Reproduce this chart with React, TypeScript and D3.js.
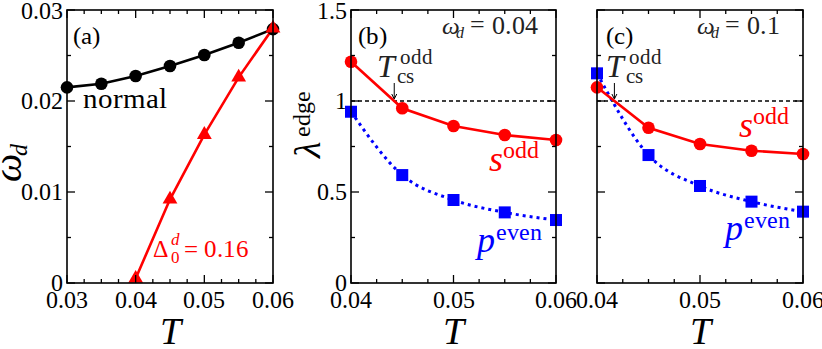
import React from "react";
import * as d3 from "d3";

const W = 822;
const H = 349;

// Panel (a)
const tNormal = [0.03, 0.035, 0.04, 0.045, 0.05, 0.055, 0.06];
const wdNormal = [0.0215, 0.0219, 0.02275, 0.02385, 0.02505, 0.0264, 0.0279];
const tDelta = [0.04, 0.045, 0.05, 0.055, 0.06];
const wdDelta = [0.0005, 0.0092, 0.0163, 0.0226, 0.028];

// Panels (b), (c)
const tLam = [0.04, 0.045, 0.05, 0.055, 0.06];
const sOddB = [1.216, 0.96, 0.863, 0.813, 0.786];
const pEvenB = [0.941, 0.593, 0.456, 0.388, 0.346];
const sOddC = [1.075, 0.853, 0.764, 0.727, 0.709];
const pEvenC = [1.152, 0.703, 0.533, 0.447, 0.392];

const xTicksA = [0.03, 0.04, 0.05, 0.06];
const xTickLabelsA = ["0.03", "0.04", "0.05", "0.06"];
const yTicksA = [0, 0.01, 0.02, 0.03];
const yTickLabelsA = ["0", "0.01", "0.02", "0.03"];
const xTicksBC = [0.04, 0.05, 0.06];
const xTickLabelsBC = ["0.04", "0.05", "0.06"];
const yTicksBC = [0, 0.5, 1, 1.5];
const yTickLabelsBC = ["0", "0.5", "1", "1.5"];

const RED = "#ff0000";
const BLUE = "#0000ff";
const FONT_CSS = '"ChartSerif", "Liberation Serif", "Times New Roman", "DejaVu Serif"';

const FONT_FACES = `
@font-face { font-family: "ChartSerif"; font-style: normal; font-weight: 400;
  src: local("Liberation Serif"), local("LiberationSerif"), local("LiberationSerif-Regular"), local("Times New Roman"), local("DejaVu Serif"); }
@font-face { font-family: "ChartSerif"; font-style: italic; font-weight: 400;
  src: local("Liberation Serif Italic"), local("LiberationSerif-Italic"), local("Times New Roman Italic"), local("DejaVu Serif Italic"), local("DejaVuSerif-Italic"); }
`;

const TOP = 10;
const BOTTOM = 283;

function Tx(props: { x: number; y: number; size: number; it?: boolean; anchor?: string; fill?: string; children: React.ReactNode }) {
  return (
    <text
      x={props.x}
      y={props.y}
      textAnchor={props.anchor}
      fill={props.fill}
      style={{ fontFamily: FONT_CSS, fontSize: props.size + "px", fontStyle: props.it ? "italic" : "normal" }}
    >
      {props.children}
    </text>
  );
}

type PanelProps = {
  x0: number;
  x1: number;
  xDomain: [number, number];
  yDomain: [number, number];
  xMajor: number[];
  xMinorStep: number;
  yMajor: number[];
  yMinorStep: number;
  xLabels: string[];
  yLabels: string[] | null;
  children?: (x: d3.ScaleLinear<number, number>, y: d3.ScaleLinear<number, number>) => React.ReactNode;
};

function Panel(p: PanelProps) {
  const x = d3.scaleLinear().domain(p.xDomain).range([p.x0, p.x1]);
  const y = d3.scaleLinear().domain(p.yDomain).range([BOTTOM, TOP]);
  const xMinor = d3.range(p.xDomain[0], p.xDomain[1] + 1e-9, p.xMinorStep);
  const yMinor = d3.range(p.yDomain[0], p.yDomain[1] + 1e-9, p.yMinorStep);
  const isMajor = (v: number, arr: number[]) => arr.some((a) => Math.abs(a - v) < 1e-9);
  const ML = 8;
  const mL = 4;
  return (
    <g>
      {p.children ? p.children(x, y) : null}
      {xMinor.map((v, i) => {
        const L = isMajor(v, p.xMajor) ? ML : mL;
        return (
          <g key={"xt" + i} stroke="#000" strokeWidth={1.3}>
            <line x1={x(v)} x2={x(v)} y1={BOTTOM} y2={BOTTOM - L} />
            <line x1={x(v)} x2={x(v)} y1={TOP} y2={TOP + L} />
          </g>
        );
      })}
      {yMinor.map((v, i) => {
        const L = isMajor(v, p.yMajor) ? ML : mL;
        return (
          <g key={"yt" + i} stroke="#000" strokeWidth={1.3}>
            <line x1={p.x0} x2={p.x0 + L} y1={y(v)} y2={y(v)} />
            <line x1={p.x1} x2={p.x1 - L} y1={y(v)} y2={y(v)} />
          </g>
        );
      })}
      <rect x={p.x0} y={TOP} width={p.x1 - p.x0} height={BOTTOM - TOP} fill="none" stroke="#000" strokeWidth={1.6} />
      {p.xMajor.map((v, i) => (
        <Tx key={"xl" + i} x={x(v)} y={308} size={24} anchor="middle">
          {p.xLabels[i]}
        </Tx>
      ))}
      {p.yLabels
        ? p.yMajor.map((v, i) => (
            <Tx key={"yl" + i} x={p.x0 - 4} y={Math.max(y(v) + 8, 19)} size={24} anchor="end">
              {p.yLabels![i]}
            </Tx>
          ))
        : null}
      <Tx x={(p.x0 + p.x1) / 2} y={344} size={38} it anchor="middle">
        T
      </Tx>
    </g>
  );
}

function crossing(ts: number[], vs: number[], level: number): number {
  for (let i = 0; i < vs.length - 1; i++) {
    if ((vs[i] - level) * (vs[i + 1] - level) <= 0) {
      const f = (vs[i] - level) / (vs[i] - vs[i + 1]);
      return ts[i] + f * (ts[i + 1] - ts[i]);
    }
  }
  return ts[0];
}

function LamContent(
  x: d3.ScaleLinear<number, number>,
  y: d3.ScaleLinear<number, number>,
  sOdd: number[],
  pEven: number[]
) {
  const lineS = d3
    .line<number>()
    .x((_, i) => x(tLam[i]))
    .y((d) => y(d));
  const lineP = d3
    .line<number>()
    .x((_, i) => x(tLam[i]))
    .y((d) => y(d))
    .curve(d3.curveMonotoneX);
  const tc = crossing(tLam, sOdd, 1);
  const ax = x(tc);
  const ay = y(1);
  return (
    <g>
      <line x1={x(0.04)} x2={x(0.06)} y1={y(1)} y2={y(1)} stroke="#000" strokeWidth={1.6} strokeDasharray="4,3" />
      <path d={lineP(pEven) || ""} fill="none" stroke={BLUE} strokeWidth={3} strokeDasharray="3,4" />
      <path d={lineS(sOdd) || ""} fill="none" stroke={RED} strokeWidth={2.6} />
      {pEven.map((v, i) => (
        <rect key={"p" + i} x={x(tLam[i]) - 6} y={y(v) - 6} width={12} height={12} fill={BLUE} />
      ))}
      {sOdd.map((v, i) => (
        <circle key={"s" + i} cx={x(tLam[i])} cy={y(v)} r={6.3} fill={RED} />
      ))}
      <line x1={ax} x2={ax} y1={ay - 18} y2={ay - 3} stroke="#000" strokeWidth={1} />
      <path d={`M${ax - 2.5},${ay - 7} L${ax},${ay - 2} L${ax + 2.5},${ay - 7}`} fill="none" stroke="#000" strokeWidth={1} />
    </g>
  );
}

export default function App() {
  return (
    <div>
      <style>{FONT_FACES}</style>
      <svg width={W} height={H} style={{ position: "absolute", left: 0, top: 0 }}>
        <rect x={0} y={0} width={W} height={H} fill="#fff" />
        {/* Panel (a) */}
        <Panel
          x0={67}
          x1={273}
          xDomain={[0.03, 0.06]}
          yDomain={[0, 0.03]}
          xMajor={xTicksA}
          xMinorStep={0.0025}
          yMajor={yTicksA}
          yMinorStep={0.005}
          xLabels={xTickLabelsA}
          yLabels={yTickLabelsA}
        >
          {(x, y) => {
            const line = d3.line<[number, number]>().x((d) => x(d[0])).y((d) => y(d[1]));
            const nPts = tNormal.map((t, i) => [t, wdNormal[i]] as [number, number]);
            const dPts = tDelta.map((t, i) => [t, wdDelta[i]] as [number, number]);
            const tri = d3.symbol().type(d3.symbolTriangle).size(95)() || "";
            return (
              <g>
                <path d={line(nPts) || ""} fill="none" stroke="#000" strokeWidth={2.6} />
                <path d={line(dPts) || ""} fill="none" stroke={RED} strokeWidth={2.6} />
                {nPts.map((d, i) => (
                  <circle key={"n" + i} cx={x(d[0])} cy={y(d[1])} r={6.3} fill="#000" />
                ))}
                {dPts.map((d, i) => (
                  <path key={"d" + i} d={tri} transform={`translate(${x(d[0])},${y(d[1])})`} fill={RED} />
                ))}
              </g>
            );
          }}
        </Panel>
        <Tx x={73} y={44} size={25}>(a)</Tx>
        <Tx x={83} y={108} size={29}>normal</Tx>
        <g fill={RED}>
          <Tx x={153} y={257} size={24}>Δ</Tx>
          <Tx x={171} y={245} size={17} it>d</Tx>
          <Tx x={171} y={263} size={17}>0</Tx>
          <Tx x={184} y={257} size={25}>= 0.16</Tx>
        </g>
        {/* y label (a) */}
        <g transform="translate(21,182) rotate(-90)">
          <Tx x={0} y={0} size={40} it>ω</Tx>
          <Tx x={26} y={6} size={24} it>d</Tx>
        </g>

        {/* Panel (b) */}
        <Panel
          x0={351}
          x1={556}
          xDomain={[0.04, 0.06]}
          yDomain={[0, 1.5]}
          xMajor={xTicksBC}
          xMinorStep={0.0025}
          yMajor={yTicksBC}
          yMinorStep={0.25}
          xLabels={xTickLabelsBC}
          yLabels={yTickLabelsBC}
        >
          {(x, y) => LamContent(x, y, sOddB, pEvenB)}
        </Panel>
        <Tx x={358} y={44} size={25}>(b)</Tx>
        <g fill="#222">
          <Tx x={442} y={34} size={25} it>ω</Tx>
          <Tx x={456} y={38} size={16} it>d</Tx>
          <Tx x={470} y={34} size={26}>= 0.04</Tx>
        </g>
        <g fill="#222">
          <Tx x={377} y={77} size={32} it>T</Tx>
          <Tx x={400} y={64} size={21}>odd</Tx>
          <Tx x={397} y={83} size={21}>cs</Tx>
        </g>
        <g fill={RED}>
          <Tx x={489} y={171} size={36} it>s</Tx>
          <Tx x={503} y={158} size={24}>odd</Tx>
        </g>
        <g fill={BLUE}>
          <Tx x={477} y={252} size={36} it>p</Tx>
          <Tx x={496} y={240} size={24}>even</Tx>
        </g>
        {/* y label (b) */}
        <g transform="translate(320,158) rotate(-90)">
          <Tx x={0} y={0} size={38} it>λ</Tx>
          <Tx x={21} y={-10} size={24}>edge</Tx>
        </g>

        {/* Panel (c) */}
        <Panel
          x0={597}
          x1={803}
          xDomain={[0.04, 0.06]}
          yDomain={[0, 1.5]}
          xMajor={xTicksBC}
          xMinorStep={0.0025}
          yMajor={yTicksBC}
          yMinorStep={0.25}
          xLabels={xTickLabelsBC}
          yLabels={null}
        >
          {(x, y) => LamContent(x, y, sOddC, pEvenC)}
        </Panel>
        <Tx x={606} y={44} size={25}>(c)</Tx>
        <g fill="#222">
          <Tx x={697} y={34} size={25} it>ω</Tx>
          <Tx x={711} y={38} size={16} it>d</Tx>
          <Tx x={725} y={34} size={26}>= 0.1</Tx>
        </g>
        <g fill="#222">
          <Tx x={606} y={77} size={32} it>T</Tx>
          <Tx x={629} y={64} size={21}>odd</Tx>
          <Tx x={626} y={83} size={21}>cs</Tx>
        </g>
        <g fill={RED}>
          <Tx x={739} y={137} size={36} it>s</Tx>
          <Tx x={753} y={124} size={24}>odd</Tx>
        </g>
        <g fill={BLUE}>
          <Tx x={725} y={240} size={36} it>p</Tx>
          <Tx x={744} y={228} size={24}>even</Tx>
        </g>
      </svg>
    </div>
  );
}
